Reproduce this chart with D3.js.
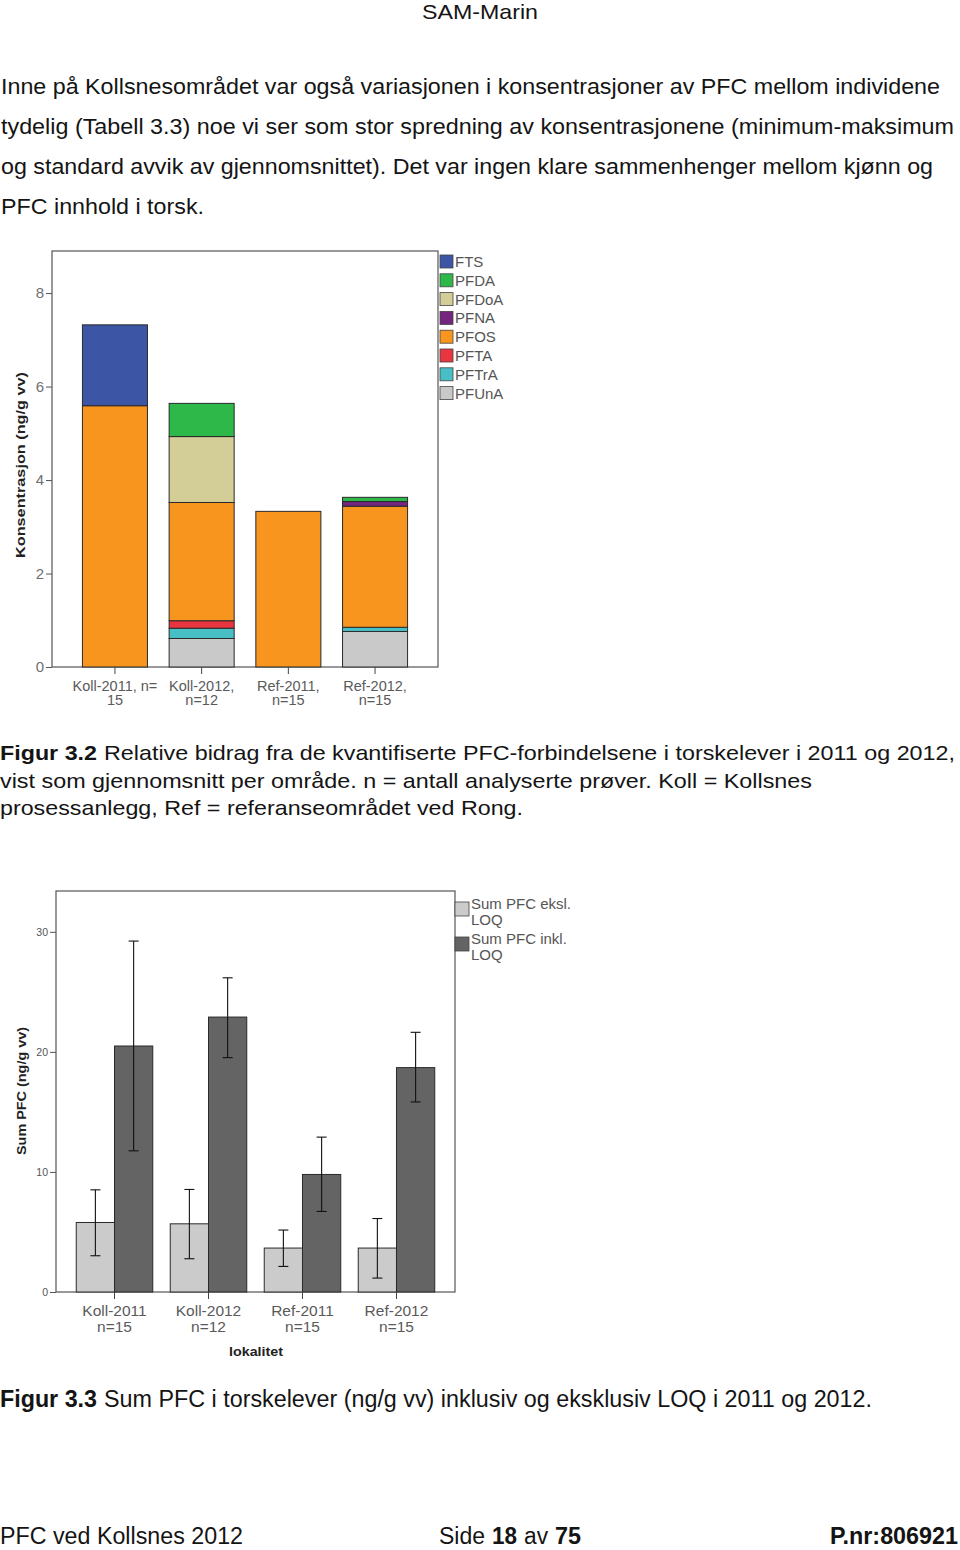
<!DOCTYPE html>
<html><head><meta charset="utf-8">
<script src="https://cdn.jsdelivr.net/npm/d3@7"></script>
<style>body{margin:0;background:#fff;} svg{display:block;font-family:"Liberation Sans",Arial,Helvetica,sans-serif;}</style>
</head><body><svg id="page" width="960" height="1550"></svg>
<script>
// ---------- DATA ----------
const categories = ["Koll-2011", "Koll-2012", "Ref-2011", "Ref-2012"];
const tickLabels1 = [["Koll-2011, n=", "15"], ["Koll-2012,", "n=12"], ["Ref-2011,", "n=15"], ["Ref-2012,", "n=15"]];
const compounds = ["FTS", "PFDA", "PFDoA", "PFNA", "PFOS", "PFTA", "PFTrA", "PFUnA"];
const FTS   = [1.73, 0, 0, 0];
const PFDA  = [0, 0.71, 0, 0.09];
const PFDoA = [0, 1.41, 0, 0];
const PFNA  = [0, 0, 0, 0.10];
const PFOS  = [5.59, 2.53, 3.33, 2.59];
const PFTA  = [0, 0.16, 0, 0];
const PFTrA = [0, 0.22, 0, 0.09];
const PFUnA = [0, 0.61, 0, 0.76];
const yTicks1 = [0, 2, 4, 6, 8];

const tickLabels2 = [["Koll-2011", "n=15"], ["Koll-2012", "n=12"], ["Ref-2011", "n=15"], ["Ref-2012", "n=15"]];
const seriesNames = ["Sum PFC eksl. LOQ", "Sum PFC inkl. LOQ"];
const sumEksl     = [5.79, 5.68, 3.66, 3.66];
const sumEkslLow  = [3.02, 2.77, 2.13, 1.16];
const sumEkslHigh = [8.51, 8.54, 5.16, 6.12];
const sumInkl     = [20.49, 22.90, 9.79, 18.69];
const sumInklLow  = [11.76, 19.52, 6.71, 15.83];
const sumInklHigh = [29.23, 26.17, 12.90, 21.63];
const yTicks2 = [0, 10, 20, 30];

// ---------- STYLE ----------
const compoundColors = {FTS:"#3c55a5", PFDA:"#2fb84a", PFDoA:"#d3cd98", PFNA:"#74267f",
  PFOS:"#f7951f", PFTA:"#e8353f", PFTrA:"#48bfc5", PFUnA:"#c9c9c9"};
const seriesColors = ["#cbcbcb", "#646464"];

const svg = d3.select("#page");
function T(sel, x, y, s, o = {}) {
  const t = sel.append("text").attr("x", x).attr("y", y).text(s)
    .attr("font-size", o.size || 21).attr("fill", o.fill || "#141414")
    .attr("text-anchor", o.anchor || "start");
  if (o.bold) t.attr("font-weight", "bold");
  if (o.w) t.attr("textLength", o.w).attr("lengthAdjust", "spacingAndGlyphs");
  if (o.rot) t.attr("transform", `rotate(${o.rot},${x},${y})`);
  return t;
}

// ---------- PAGE TEXT ----------
T(svg, 480, 19, "SAM-Marin", {anchor: "middle", w: 116, size: 21});
const para = [
  ["Inne på Kollsnesområdet var også variasjonen i konsentrasjoner av PFC mellom individene", 939],
  ["tydelig (Tabell 3.3) noe vi ser som stor spredning av konsentrasjonene (minimum-maksimum", 953],
  ["og standard avvik av gjennomsnittet). Det var ingen klare sammenhenger mellom kjønn og", 932],
  ["PFC innhold i torsk.", 203]
];
para.forEach((p, i) => T(svg, 1, 94 + i * 40, p[0], {w: p[1], size: 22}));

T(svg, 0, 760, "Figur 3.2", {bold: true, w: 97});
T(svg, 104, 760, "Relative bidrag fra de kvantifiserte PFC-forbindelsene i torskelever i 2011 og 2012,", {w: 851});
T(svg, 0, 788, "vist som gjennomsnitt per område. n = antall analyserte prøver. Koll = Kollsnes", {w: 812});
T(svg, 0, 815, "prosessanlegg, Ref = referanseområdet ved Rong.", {w: 523});

T(svg, 0, 1407, "Figur 3.3", {bold: true, w: 97, size: 23});
T(svg, 104, 1407, "Sum PFC i torskelever (ng/g vv) inklusiv og eksklusiv LOQ i 2011 og 2012.", {w: 768, size: 23});

const fy = 1544;
T(svg, 0, fy, "PFC ved Kollsnes 2012", {w: 243, size: 23});
T(svg, 439, fy, "Side", {w: 46, size: 23});
T(svg, 492, fy, "18", {bold: true, w: 25, size: 23});
T(svg, 524, fy, "av", {w: 24, size: 23});
T(svg, 555, fy, "75", {bold: true, w: 26, size: 23});
T(svg, 958, fy, "P.nr:806921", {bold: true, w: 128, anchor: "end", size: 23});

// ---------- CHART 1: stacked bars ----------
const c1 = svg.append("g");
const L1 = 52, R1 = 438, Tp1 = 251, B1 = 667;
const x1 = d3.scaleBand().domain(categories).range([L1, R1]).paddingInner(0.25).paddingOuter(0.351);
const y1 = d3.scaleLinear().domain([0, 8.9]).range([B1, Tp1]);

const compoundData = {FTS, PFDA, PFDoA, PFNA, PFOS, PFTA, PFTrA, PFUnA};
const rows1 = categories.map((c, i) => {
  const r = {cat: c};
  compounds.forEach(k => r[k] = compoundData[k][i]);
  return r;
});
const stackKeys = compounds.slice().reverse(); // bottom -> top
const stacked = d3.stack().keys(stackKeys)(rows1);

c1.append("rect").attr("x", L1).attr("y", Tp1).attr("width", R1 - L1).attr("height", B1 - Tp1)
  .attr("fill", "#fff").attr("stroke", "#555").attr("stroke-width", 1.2);

stacked.forEach(layer => {
  c1.append("g").selectAll("rect").data(layer.filter(d => d[1] - d[0] > 0)).join("rect")
    .attr("x", d => x1(d.data.cat)).attr("width", x1.bandwidth())
    .attr("y", d => y1(d[1])).attr("height", d => y1(d[0]) - y1(d[1]))
    .attr("fill", compoundColors[layer.key]).attr("stroke", "#2a2a2a").attr("stroke-width", 1);
});

const ya1 = c1.append("g").attr("transform", `translate(${L1},0)`)
  .call(d3.axisLeft(y1).tickValues(yTicks1).tickSize(6).tickPadding(2).tickSizeOuter(0));
ya1.select(".domain").remove();
ya1.selectAll(".tick line").attr("stroke", "#555");
ya1.selectAll(".tick text").attr("fill", "#707070").style("font-size", "15px").style("font-family", "Liberation Sans, Arial, sans-serif");

const xa1 = c1.append("g").attr("transform", `translate(0,${B1})`)
  .call(d3.axisBottom(x1).tickSize(7).tickFormat("").tickSizeOuter(0));
xa1.select(".domain").remove();
xa1.selectAll(".tick line").attr("stroke", "#444");
categories.forEach((c, i) => {
  const cx = x1(c) + x1.bandwidth() / 2;
  T(c1, cx, 691, tickLabels1[i][0], {anchor: "middle", size: 14.5, fill: "#5a5a5a"});
  T(c1, cx, 705, tickLabels1[i][1], {anchor: "middle", size: 14.5, fill: "#5a5a5a"});
});
T(c1, 25, 465, "Konsentrasjon (ng/g vv)", {anchor: "middle", rot: -90, bold: true, size: 12.5, w: 186, fill: "#222"});

// legend 1
compounds.forEach((k, i) => {
  const yy = 255 + i * 18.8;
  c1.append("rect").attr("x", 440).attr("y", yy).attr("width", 13).attr("height", 13)
    .attr("fill", compoundColors[k]).attr("stroke", "#444").attr("stroke-width", 0.8);
  T(c1, 455, yy + 12, k, {size: 15, fill: "#555"});
});

// ---------- CHART 2: grouped bars with error bars ----------
const c2 = svg.append("g");
const L2 = 56, R2 = 455, Tp2 = 891, B2 = 1292;
const x2 = d3.scaleBand().domain(categories).range([L2, R2]).paddingInner(0.186).paddingOuter(0.2155);
const xs = d3.scaleBand().domain([0, 1]).range([0, x2.bandwidth()]);
const y2 = d3.scaleLinear().domain([0, 33.4]).range([B2, Tp2]);

c2.append("rect").attr("x", L2).attr("y", Tp2).attr("width", R2 - L2).attr("height", B2 - Tp2)
  .attr("fill", "#fff").attr("stroke", "#555").attr("stroke-width", 1.2);

const rows2 = categories.map((c, i) => [
  {cat: c, s: 0, v: sumEksl[i], lo: sumEkslLow[i], hi: sumEkslHigh[i]},
  {cat: c, s: 1, v: sumInkl[i], lo: sumInklLow[i], hi: sumInklHigh[i]}
]).flat();

c2.append("g").selectAll("rect").data(rows2).join("rect")
  .attr("x", d => x2(d.cat) + xs(d.s)).attr("width", xs.bandwidth())
  .attr("y", d => y2(d.v)).attr("height", d => y2(0) - y2(d.v))
  .attr("fill", d => seriesColors[d.s]).attr("stroke", "#2a2a2a").attr("stroke-width", 1);

const eb = c2.append("g").attr("stroke", "#111").attr("stroke-width", 1.1);
rows2.forEach(d => {
  const cx = x2(d.cat) + xs(d.s) + xs.bandwidth() / 2;
  eb.append("line").attr("x1", cx).attr("x2", cx).attr("y1", y2(d.hi)).attr("y2", y2(d.lo));
  eb.append("line").attr("x1", cx - 5).attr("x2", cx + 5).attr("y1", y2(d.hi)).attr("y2", y2(d.hi));
  eb.append("line").attr("x1", cx - 5).attr("x2", cx + 5).attr("y1", y2(d.lo)).attr("y2", y2(d.lo));
});

const ya2 = c2.append("g").attr("transform", `translate(${L2},0)`)
  .call(d3.axisLeft(y2).tickValues(yTicks2).tickSize(6).tickPadding(2).tickSizeOuter(0));
ya2.select(".domain").remove();
ya2.selectAll(".tick line").attr("stroke", "#555");
ya2.selectAll(".tick text").attr("fill", "#555").style("font-size", "10.5px").style("font-family", "Liberation Sans, Arial, sans-serif");

const xa2 = c2.append("g").attr("transform", `translate(0,${B2})`)
  .call(d3.axisBottom(x2).tickSize(7).tickFormat("").tickSizeOuter(0));
xa2.select(".domain").remove();
xa2.selectAll(".tick line").attr("stroke", "#444");
categories.forEach((c, i) => {
  const cx = x2(c) + x2.bandwidth() / 2;
  T(c2, cx, 1316, tickLabels2[i][0], {anchor: "middle", size: 15.5, fill: "#5a5a5a"});
  T(c2, cx, 1332, tickLabels2[i][1], {anchor: "middle", size: 15.5, fill: "#5a5a5a"});
});
T(c2, 256, 1356, "lokalitet", {anchor: "middle", bold: true, size: 13.5, fill: "#222", w: 54});
T(c2, 26, 1091, "Sum PFC (ng/g vv)", {anchor: "middle", rot: -90, bold: true, size: 13.5, w: 128, fill: "#222"});

// legend 2
const legLines = [["Sum PFC eksl.", "LOQ"], ["Sum PFC inkl.", "LOQ"]];
seriesNames.forEach((s, i) => {
  const yy = 902 + i * 35;
  c2.append("rect").attr("x", 455).attr("y", yy).attr("width", 14).attr("height", 14)
    .attr("fill", seriesColors[i]).attr("stroke", "#444").attr("stroke-width", 0.8);
  T(c2, 471, yy + 7, legLines[i][0], {size: 15, fill: "#555"});
  T(c2, 471, yy + 23, legLines[i][1], {size: 15, fill: "#555"});
});
</script>
</body></html>
